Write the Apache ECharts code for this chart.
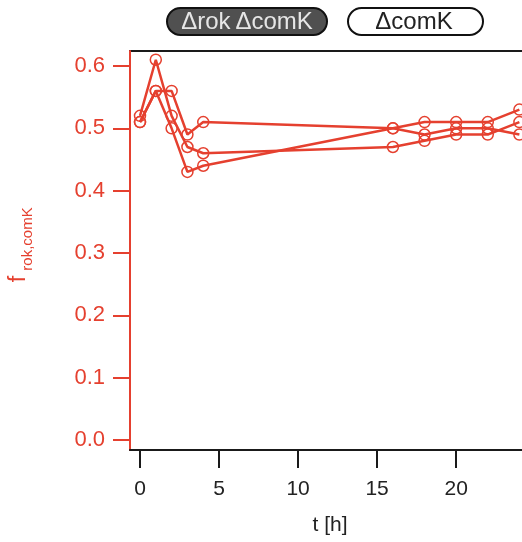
<!DOCTYPE html>
<html><head><meta charset="utf-8">
<script src="https://cdn.jsdelivr.net/npm/echarts@6/dist/echarts.min.js"></script>
<style>html,body{margin:0;padding:0;background:#fff;overflow:hidden}#c{width:552px;height:542px}</style>
</head><body><div id="c"></div>
<script>
const hours = [0, 1, 2, 3, 4, 16, 18, 20, 22, 24];
const run1 = [0.52, 0.61, 0.52, 0.47, 0.46, 0.47, 0.48, 0.49, 0.49, 0.51];
const run2 = [0.51, 0.56, 0.56, 0.49, 0.51, 0.50, 0.49, 0.50, 0.50, 0.49];
const run3 = [0.51, 0.56, 0.50, 0.43, 0.44, 0.50, 0.51, 0.51, 0.51, 0.53];
const yTicks = [0, 0.1, 0.2, 0.3, 0.4, 0.5, 0.6];
const xTicks = [0, 5, 10, 15, 20, 25];
const legendItems = ['Δrok\u2009ΔcomK', 'ΔcomK'];

const RED = '#e5402f';
const FONT = '"Liberation Sans", Arial, sans-serif';
const chart = echarts.init(document.getElementById('c'), null, {renderer: 'canvas'});

function mk(vals) {
  return {
    type: 'line', data: hours.map((h, i) => [h, vals[i]]),
    symbol: 'circle', symbolSize: 11,
    lineStyle: {color: RED, width: 2.5},
    itemStyle: {color: 'rgba(255,255,255,0)', borderColor: RED, borderWidth: 1.5},
    emphasis: {disabled: true}, animation: false
  };
}

chart.setOption({
  animation: false,
  backgroundColor: '#fff',
  grid: {left: 130, top: 51, bottom: 92, right: 1, show: true, borderColor: '#1a1a1a', borderWidth: 2, backgroundColor: 'transparent'},
  xAxis: {
    type: 'value', min: -0.633, max: 26,
    axisLine: {onZero: false, lineStyle: {color: '#1a1a1a', width: 2}},
    axisTick: {show: true, length: 18, lineStyle: {color: '#1a1a1a', width: 2}, customValues: xTicks},
    axisLabel: {color: '#222', fontSize: 21, fontFamily: FONT, margin: 29, customValues: xTicks},
    splitLine: {show: false}
  },
  yAxis: {
    type: 'value', min: -0.016, max: 0.624,
    axisLine: {onZero: false, lineStyle: {color: RED, width: 2}},
    axisTick: {show: true, length: 17, lineStyle: {color: RED, width: 2}, customValues: yTicks},
    axisLabel: {color: RED, fontSize: 22, fontFamily: FONT, margin: 25, customValues: yTicks,
      formatter: v => v.toFixed(1)},
    splitLine: {show: false}
  },
  series: [mk(run1), mk(run2), mk(run3)],
  graphic: [
    {type: 'rect', shape: {x: 167, y: 8, width: 160, height: 27, r: 13.5}, style: {fill: '#505050', stroke: '#111', lineWidth: 2}},
    {type: 'text', x: 247, y: 22, style: {text: legendItems[0], fill: '#e6e6e6', font: '24px ' + FONT, align: 'center', verticalAlign: 'middle'}},
    {type: 'rect', shape: {x: 348, y: 8, width: 135, height: 27, r: 13.5}, style: {fill: '#fff', stroke: '#111', lineWidth: 2}},
    {type: 'text', x: 414, y: 22, style: {text: legendItems[1], fill: '#222', font: '24px ' + FONT, align: 'center', verticalAlign: 'middle'}},
    {type: 'text', x: 330, y: 525, style: {text: 't [h]', fill: '#222', font: '21px ' + FONT, align: 'center', verticalAlign: 'middle'}},
    {type: 'text', x: 19, y: 279, rotation: Math.PI / 2,
      style: {text: 'f', fill: RED, font: '23px ' + FONT, align: 'center', verticalAlign: 'middle'}},
    {type: 'text', x: 28, y: 239, rotation: Math.PI / 2,
      style: {text: 'rok,comK', fill: RED, font: '15px ' + FONT, align: 'center', verticalAlign: 'middle'}}
  ]
});
</script></body></html>
